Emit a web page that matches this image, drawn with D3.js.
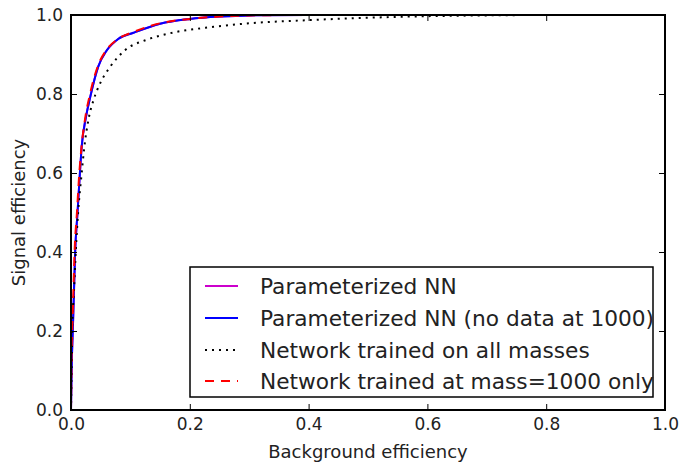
<!DOCTYPE html>
<html><head><meta charset="utf-8">
<script src="https://cdn.jsdelivr.net/npm/d3@7"></script>
<style>body{margin:0;background:#fff}</style>
</head><body>
<svg id="c" width="680" height="465"></svg>
<script>
// Data (background efficiency, signal efficiency)
const paramX = [0,0.001,0.003,0.005,0.007,0.011,0.015,0.018,0.025,0.032,0.046,0.06,0.08,0.105,0.15,0.2,0.25,0.3,0.4,1];
const paramY = [0,0.1,0.2,0.3,0.4,0.5,0.6,0.667,0.74,0.79,0.87,0.91,0.94,0.955,0.978,0.99,0.996,0.999,1,1];
const noDataX = [0,0.001,0.003,0.005,0.007,0.011,0.015,0.018,0.025,0.032,0.046,0.06,0.08,0.105,0.15,0.2,0.25,0.3,0.4,1];
const noDataY = [0,0.1,0.2,0.3,0.4,0.5,0.6,0.667,0.74,0.79,0.87,0.91,0.94,0.955,0.978,0.99,0.996,0.999,1,1];
const allMassX = [0,0.001,0.002,0.005,0.008,0.012,0.018,0.022,0.03,0.038,0.05,0.066,0.091,0.127,0.167,0.24,0.3,0.4,0.5,0.6,0.7,0.8,1];
const allMassY = [0,0.1,0.2,0.3,0.4,0.5,0.6,0.66,0.74,0.785,0.83,0.869,0.911,0.937,0.954,0.97,0.979,0.987,0.993,0.997,0.999,1,1];
const m1000X = [0,0.001,0.002,0.004,0.006,0.01,0.014,0.018,0.024,0.032,0.045,0.06,0.08,0.105,0.15,0.2,0.25,0.3,0.4,1];
const m1000Y = [0,0.15,0.2,0.3,0.4,0.5,0.6,0.67,0.74,0.8,0.87,0.912,0.94,0.957,0.979,0.99,0.996,0.999,1,1];
const tickValues = [0,0.2,0.4,0.6,0.8,1.0];
const seriesNames = ["Parameterized NN","Parameterized NN (no data at 1000)","Network trained on all masses","Network trained at mass=1000 only"];

const svg = d3.select("#c");
const L=71, R=665, T=15, B=410;
const x = d3.scaleLinear().domain([0,1]).range([L,R]);
const y = d3.scaleLinear().domain([0,1]).range([B,T]);
const font = "DejaVu Sans, sans-serif";

const series = [
  {name:seriesNames[0], xs:paramX, ys:paramY, color:"#cc00cc", dash:null},
  {name:seriesNames[1], xs:noDataX, ys:noDataY, color:"#0000ff", dash:null},
  {name:seriesNames[2], xs:allMassX, ys:allMassY, color:"#000000", dash:"2,5"},
  {name:seriesNames[3], xs:m1000X, ys:m1000Y, color:"#ff0000", dash:"9,7"}
];

const line = d3.line().x(d=>x(d[0])).y(d=>y(d[1])).curve(d3.curveMonotoneX);
svg.append("clipPath").attr("id","pc").append("rect")
  .attr("x",L).attr("y",T).attr("width",R-L).attr("height",B-T);
const g = svg.append("g").attr("clip-path","url(#pc)");
series.forEach(s=>{
  g.append("path").datum(s.xs.map((v,i)=>[v,s.ys[i]]))
    .attr("d",line).attr("fill","none").attr("stroke",s.color)
    .attr("stroke-width",2).attr("stroke-dasharray",s.dash);
});

// Axes with inward ticks on all sides
const fmt = d3.format(".1f");
const ax = (gen, tr) => svg.append("g").attr("transform",tr).call(gen);
const axB = ax(d3.axisBottom(x).tickValues(tickValues).tickFormat(fmt).tickSizeInner(-6).tickSizeOuter(0).tickPadding(8), `translate(0,${B})`);
const axT = ax(d3.axisTop(x).tickValues(tickValues).tickFormat("").tickSizeInner(-6).tickSizeOuter(0), `translate(0,${T})`);
const axL = ax(d3.axisLeft(y).tickValues(tickValues).tickFormat(fmt).tickSizeInner(-6).tickSizeOuter(0).tickPadding(8), `translate(${L},0)`);
const axR = ax(d3.axisRight(y).tickValues(tickValues).tickFormat("").tickSizeInner(-6).tickSizeOuter(0), `translate(${R},0)`);
[axB,axT,axL,axR].forEach(a=>{
  a.select(".domain").remove();
  a.selectAll("line").attr("stroke","#000").attr("stroke-width",1);
  a.selectAll("text").attr("font-family",font).attr("font-size",17).attr("fill","#222");
});
svg.append("rect").attr("x",L).attr("y",T).attr("width",R-L).attr("height",B-T)
  .attr("fill","none").attr("stroke","#000").attr("stroke-width",2);

svg.append("text").attr("x",(L+R)/2).attr("y",458).attr("text-anchor","middle").attr("fill","#222")
  .attr("font-family",font).attr("font-size",18).text("Background efficiency");
svg.append("text").attr("transform",`translate(25,${(T+B)/2}) rotate(-90)`).attr("text-anchor","middle").attr("fill","#222")
  .attr("font-family",font).attr("font-size",18).text("Signal efficiency");

// Legend
const lg = svg.append("g");
lg.append("rect").attr("x",190).attr("y",267).attr("width",463).attr("height",130)
  .attr("fill","#fff").attr("stroke","#000").attr("stroke-width",1.5);
const rowY = [286,318,350,381];
series.forEach((s,i)=>{
  lg.append("line").attr("x1",205).attr("x2",238).attr("y1",rowY[i]).attr("y2",rowY[i])
    .attr("stroke",s.color).attr("stroke-width",2).attr("stroke-dasharray",s.dash);
  lg.append("text").attr("x",260).attr("y",rowY[i]+8).attr("font-family",font).attr("fill","#222")
    .attr("font-size",21.7).text(s.name);
});
</script>
</body></html>
